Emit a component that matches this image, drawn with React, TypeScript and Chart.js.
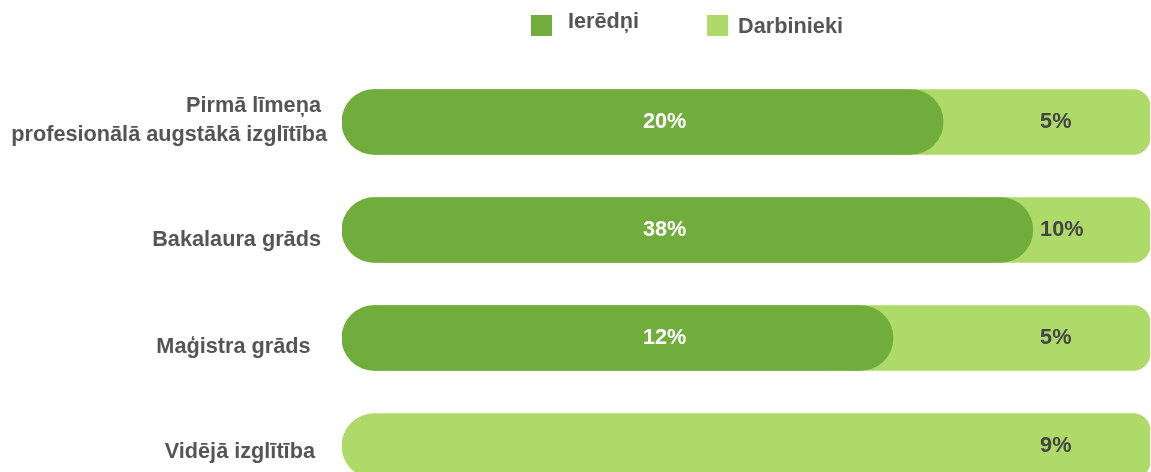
import React, { useEffect, useRef } from "react";
import { Chart, registerables } from "chart.js";

Chart.register(...registerables);

// ---- data ----
const categories: (string | string[])[] = [
  ["Pirmā līmeņa ", "profesionālā augstākā izglītība"],
  "Bakalaura grāds ",
  "Maģistra grāds  \u2009",
  "Vidējā izglītība  ",
];
const seriesNames = ["Ierēdņi", "Darbinieki"];
// bar lengths as drawn (share of the full row bar)
const ieredniBar: (number | null)[] = [74.4, 85.5, 68.2, null];
const darbiniekiBar = [100, 100, 100, 100];
// value labels shown on the bars
const ieredniLabels = ["20%", "38%", "12%", ""];
const darbiniekiLabels = ["5%", "10%", "5%", "9%"];

const DARK = "#71AD3D";
const LIGHT = "#AEDA6A";
const FONT = "'Liberation Sans', Arial, sans-serif";
const FS = 21.7;

const valueLabelPlugin = {
  id: "valueLabels",
  afterDatasetsDraw(chart: any, _args: any, opts: any) {
    const ctx = chart.ctx;
    const xs = chart.scales.x;
    chart.data.datasets.forEach((ds: any, di: number) => {
      const meta = chart.getDatasetMeta(di);
      meta.data.forEach((el: any, i: number) => {
        const t = ds.valueLabels[i];
        if (!t) return;
        ctx.save();
        ctx.font = `bold ${FS}px ${FONT}`;
        ctx.fillStyle = ds.labelColor;
        ctx.textAlign = "left";
        ctx.textBaseline = "middle";
        ctx.fillText(t, xs.getPixelForValue(opts.positions[di]), el.y);
        ctx.restore();
      });
    });
  },
};

const categoryLabelPlugin = {
  id: "categoryLabels",
  afterDraw(chart: any, _args: any, opts: any) {
    const ctx = chart.ctx;
    const ys = chart.scales.y;
    const lh = FS * opts.lineHeight;
    ctx.save();
    ctx.font = `bold ${FS}px ${FONT}`;
    ctx.fillStyle = opts.color;
    ctx.textAlign = "right";
    ctx.textBaseline = "middle";
    (chart.data.labels as any[]).forEach((lab: any, i: number) => {
      const lines = Array.isArray(lab) ? lab : [lab];
      const y0 = ys.getPixelForTick(i) + opts.offsets[i] - ((lines.length - 1) * lh) / 2;
      lines.forEach((ln: string, k: number) => {
        ctx.fillText(ln, chart.chartArea.left - opts.padding, y0 + k * lh);
      });
    });
    ctx.restore();
  },
};

const legendPlugin = {
  id: "customLegend",
  afterDraw(chart: any, _args: any, opts: any) {
    const ctx = chart.ctx;
    ctx.save();
    ctx.font = `bold ${FS}px ${FONT}`;
    let x = opts.left;
    chart.data.datasets.forEach((ds: any, i: number) => {
      ctx.fillStyle = ds.backgroundColor;
      ctx.fillRect(x, opts.boxTop, opts.box, opts.box);
      ctx.fillStyle = "#555555";
      ctx.textAlign = "left";
      ctx.textBaseline = "alphabetic";
      const tx = x + opts.box + opts.gaps[i];
      ctx.fillText(ds.label, tx, opts.baselines[i]);
      x = tx + ctx.measureText(ds.label).width + opts.spacing;
    });
    ctx.restore();
  },
};

export default function App() {
  const ref = useRef<HTMLCanvasElement>(null);
  useEffect(() => {
    const chart = new Chart(ref.current as HTMLCanvasElement, {
      type: "bar",
      data: {
        labels: categories as any,
        datasets: [
          {
            label: seriesNames[0],
            data: ieredniBar,
            backgroundColor: DARK,
            borderSkipped: false,
            borderRadius: { topLeft: 33, bottomLeft: 33, topRight: 33, bottomRight: 33 },
            barThickness: 65,
            grouped: false,
            valueLabels: ieredniLabels,
            labelColor: "#ffffff",
          } as any,
          {
            label: seriesNames[1],
            data: darbiniekiBar,
            backgroundColor: LIGHT,
            borderSkipped: false,
            borderRadius: { topLeft: 33, bottomLeft: 33, topRight: 17, bottomRight: 17 },
            barThickness: 65,
            grouped: false,
            valueLabels: darbiniekiLabels,
            labelColor: "#444444",
          } as any,
        ],
      },
      options: {
        indexAxis: "y",
        animation: false,
        responsive: false,
        maintainAspectRatio: false,
        devicePixelRatio: 1,
        layout: { padding: { top: 68, bottom: 0, left: 0, right: 1 } },
        scales: {
          x: { display: false, min: 0, max: 100, stacked: false },
          y: {
            grid: { display: false, drawTicks: false },
            border: { display: false },
            ticks: { display: false },
            afterFit: (axis: any) => {
              axis.width = 342;
            },
          },
        },
        plugins: {
          legend: { display: false },
          tooltip: { enabled: false },
          valueLabels: { positions: [37.25, 86.4] },
          categoryLabels: {
            color: "#555555",
            padding: 15,
            lineHeight: 1.38,
            offsets: [-1.5, 10, 9, 6],
          },
          customLegend: {
            left: 531,
            boxTop: 15,
            box: 21,
            gaps: [16, 10],
            baselines: [28, 33],
            spacing: 68,
          },
        } as any,
      },
      plugins: [valueLabelPlugin, categoryLabelPlugin, legendPlugin],
    });
    return () => chart.destroy();
  }, []);
  return (
    <div style={{ position: "fixed", left: 0, top: 0, width: 1151, height: 500, background: "#fff", overflow: "hidden" }}>
      <canvas ref={ref} width={1151} height={500} style={{ display: "block" }} />
    </div>
  );
}
